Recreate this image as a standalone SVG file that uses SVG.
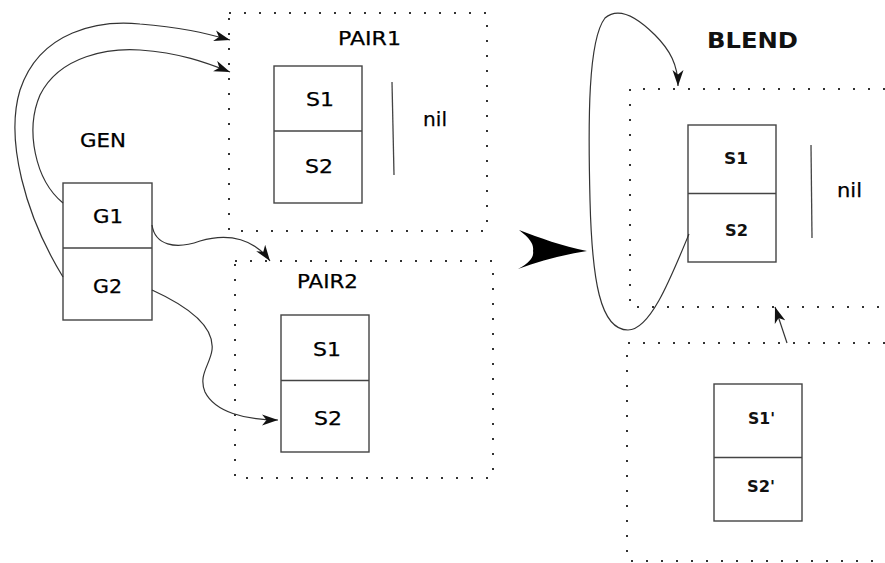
<svg xmlns="http://www.w3.org/2000/svg" width="885" height="563" viewBox="0 0 885 563">
<style>
  .bg{fill:#fff}
  .box{fill:#fff;stroke:#444;stroke-width:1.4}
  .div{stroke:#444;stroke-width:1.3;fill:none}
  .dot{fill:none;stroke:#333;stroke-width:2;stroke-dasharray:2 13}
  .t{font-family:"DejaVu Sans","Liberation Sans",sans-serif;font-size:19.5px;fill:#000;stroke:#000;stroke-width:0.25}
  .b{font-family:"DejaVu Sans","Liberation Sans",sans-serif;font-weight:bold;fill:#111}
  .c{fill:none;stroke:#333;stroke-width:1.2}
</style>
<defs>
  <marker id="ah" markerWidth="18" markerHeight="12" refX="16" refY="6" orient="auto" markerUnits="userSpaceOnUse">
    <path d="M0,0.5 L16,6 L0,11.5 L4.5,6 Z" fill="#111"/>
  </marker>
</defs>
<rect class="bg" x="0" y="0" width="885" height="563"/>

<g id="gen">
  <text class="t" x="80" y="147" textLength="46" lengthAdjust="spacingAndGlyphs">GEN</text>
  <rect class="box" x="63" y="183" width="89" height="137"/>
  <line class="div" x1="63" y1="248" x2="152" y2="248"/>
  <text class="t" x="93" y="223" textLength="30" lengthAdjust="spacingAndGlyphs">G1</text>
  <text class="t" x="93" y="293" textLength="29" lengthAdjust="spacingAndGlyphs">G2</text>
</g>

<g id="pair1">
  <rect class="dot" x="229" y="13" width="258" height="218"/>
  <text class="t" x="338" y="45" textLength="63" lengthAdjust="spacingAndGlyphs">PAIR1</text>
  <rect class="box" x="274" y="66" width="88" height="137"/>
  <line class="div" x1="274" y1="131" x2="362" y2="131"/>
  <text class="t" x="306" y="106" textLength="28" lengthAdjust="spacingAndGlyphs">S1</text>
  <text class="t" x="305" y="173" textLength="28" lengthAdjust="spacingAndGlyphs">S2</text>
  <line class="div" x1="392" y1="82" x2="394" y2="175"/>
  <text class="t" x="423" y="126" textLength="24" lengthAdjust="spacingAndGlyphs">nil</text>
</g>

<g id="pair2">
  <rect class="dot" x="235" y="261" width="258" height="217"/>
  <text class="t" x="297" y="288" textLength="61" lengthAdjust="spacingAndGlyphs">PAIR2</text>
  <rect class="box" x="281" y="315" width="88" height="137"/>
  <line class="div" x1="281" y1="380.5" x2="369" y2="380.5"/>
  <text class="t" x="313" y="356" textLength="28" lengthAdjust="spacingAndGlyphs">S1</text>
  <text class="t" x="314" y="425" textLength="28" lengthAdjust="spacingAndGlyphs">S2</text>
</g>

<g id="transform-arrow">
  <path d="M587,251 C562,246 540,238 519,230 C531,239 534,245 533,251 C534,256 531,262 518,269 C540,261 562,255 587,251 Z" fill="#000"/>
</g>

<g id="blend">
  <text class="b" x="707" y="48" font-size="20.5" textLength="91" lengthAdjust="spacingAndGlyphs">BLEND</text>
  <path class="dot" d="M900,89 L630,89 L630,307 L900,307"/>
  <rect class="box" x="688" y="125" width="88" height="137"/>
  <line class="div" x1="688" y1="193.5" x2="776" y2="193.5"/>
  <text class="b" x="724" y="164" font-size="15" textLength="24" lengthAdjust="spacingAndGlyphs">S1</text>
  <text class="b" x="725" y="236" font-size="15" textLength="23" lengthAdjust="spacingAndGlyphs">S2</text>
  <line class="div" x1="811" y1="145" x2="812" y2="238"/>
  <text class="t" x="837" y="197" textLength="25" lengthAdjust="spacingAndGlyphs">nil</text>
</g>

<g id="primes">
  <path class="dot" d="M900,343 L627,343 L627,561 L900,561"/>
  <rect class="box" x="714" y="384" width="88" height="137"/>
  <line class="div" x1="714" y1="457.5" x2="802" y2="457.5"/>
  <text class="b" x="748" y="424" font-size="15" textLength="27" lengthAdjust="spacingAndGlyphs">S1'</text>
  <text class="b" x="747" y="492" font-size="15" textLength="28" lengthAdjust="spacingAndGlyphs">S2'</text>
</g>

<g id="connectors">
  <path class="c" marker-end="url(#ah)" d="M63,277 C25,215 5,140 20,90 C40,30 100,20 140,24 C180,27 205,33 230,40"/>
  <path class="c" marker-end="url(#ah)" d="M63,203 C35,180 25,130 40,95 C60,55 110,48 140,50 C180,53 205,62 230,72"/>
  <path class="c" marker-end="url(#ah)" d="M152,225 C155,245 175,250 200,241 C230,232 255,240 270,261"/>
  <path class="c" marker-end="url(#ah)" d="M152,290 C185,305 215,325 212,350 C210,365 198,375 205,392 C215,412 245,420 278,420"/>
  <path class="c" marker-end="url(#ah)" d="M689,234 C670,280 650,330 628,330 C600,330 592,280 590,200 C588,120 588,40 605,18 C620,5 640,20 655,35 C670,50 678,65 678,86"/>
  <path class="c" marker-end="url(#ah)" d="M787,343 L775,307"/>
</g>
</svg>
